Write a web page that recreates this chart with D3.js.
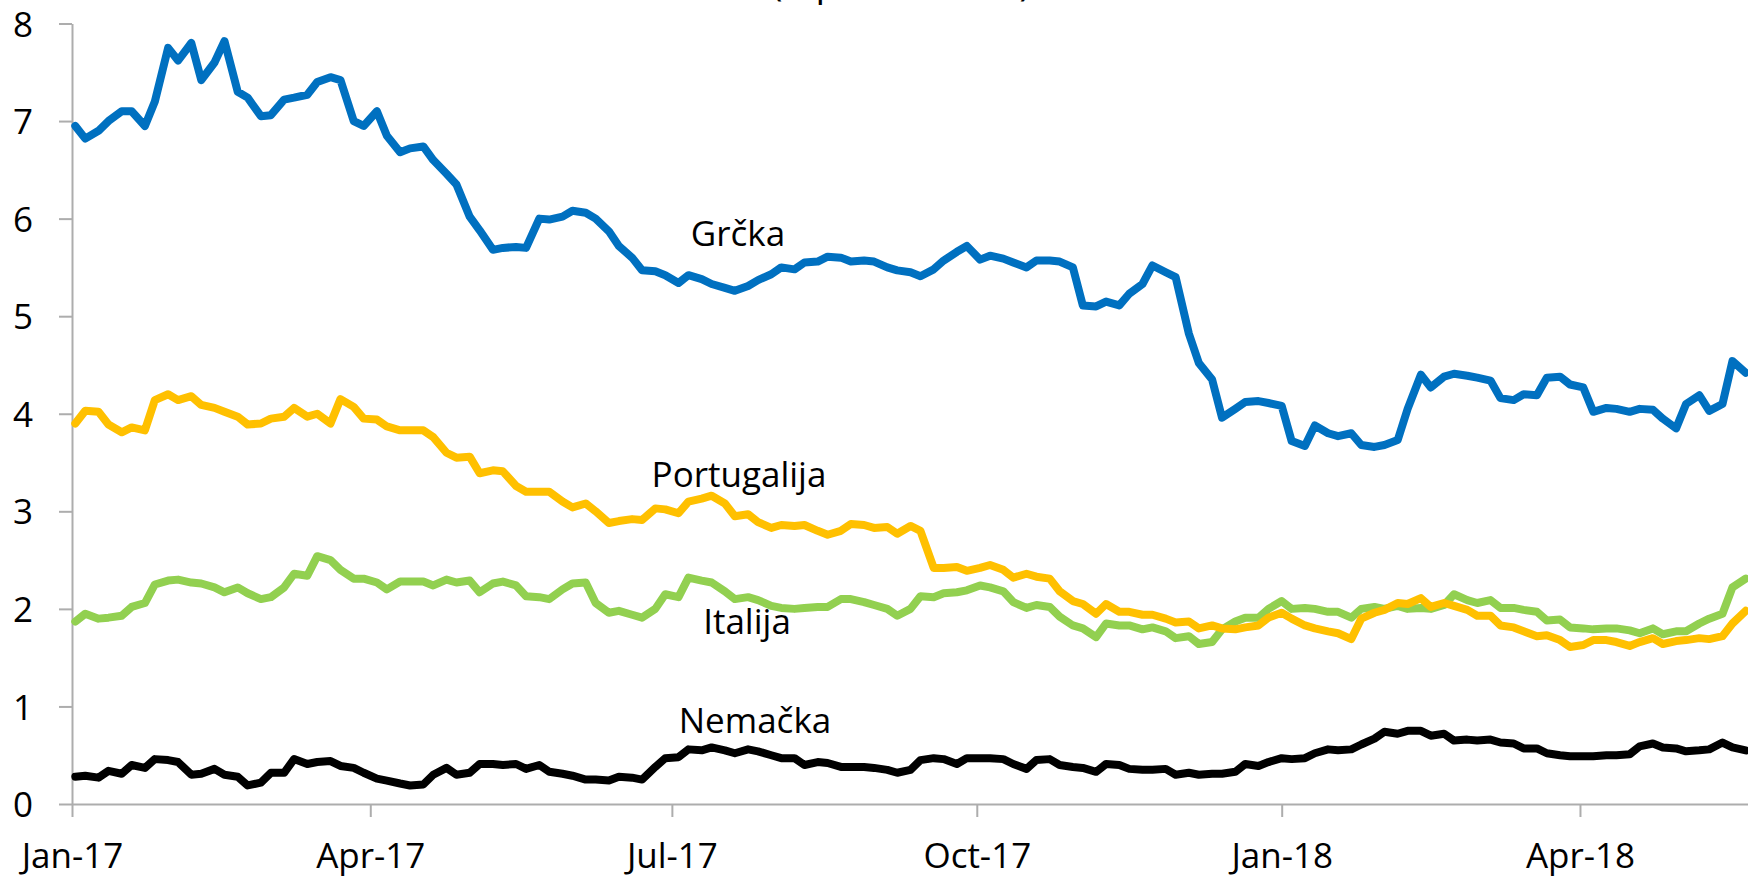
<!DOCTYPE html>
<html>
<head>
<meta charset="utf-8">
<script src="https://cdn.jsdelivr.net/npm/d3@7"></script>
<style>
  body { margin: 0; background: #fff; }
  #chart text { font-family: "Open Sans", sans-serif; fill: #000; }
</style>
</head>
<body>
<div id="chart"></div>
<script>
// quotes sampled on Mondays and Thursdays, Jan 2017 - May 2018
const mondays = d3.utcMonday.range(new Date(Date.UTC(2017, 0, 2)), new Date(Date.UTC(2018, 4, 22)));
const thursdays = d3.utcThursday.range(new Date(Date.UTC(2017, 0, 2)), new Date(Date.UTC(2018, 4, 22)));
const dates = mondays.concat(thursdays).sort((a, b) => a - b);

const grcka = [
  6.95, 6.82, 6.9, 7.0, 7.1, 7.1, 6.95, 7.2, 7.75, 7.62, 7.8, 7.42, 7.6, 7.82, 7.3, 7.24, 7.05, 7.06,
  7.22, 7.24, 7.27, 7.4, 7.45, 7.42, 7.0, 6.95, 7.1, 6.85, 6.68, 6.72, 6.74, 6.6, 6.46, 6.35, 6.02, 5.88,
  5.68, 5.7, 5.71, 5.7, 6.0, 5.99, 6.02, 6.08, 6.06, 6.0, 5.87, 5.72, 5.6, 5.47, 5.46, 5.42, 5.34, 5.42,
  5.38, 5.33, 5.29, 5.26, 5.31, 5.37, 5.43, 5.5, 5.48, 5.55, 5.56, 5.61, 5.6, 5.56, 5.57, 5.56, 5.5, 5.47,
  5.45, 5.41, 5.48, 5.57, 5.66, 5.72, 5.58, 5.62, 5.59, 5.55, 5.5, 5.57, 5.57, 5.56, 5.5, 5.11, 5.1, 5.15,
  5.11, 5.23, 5.33, 5.52, 5.45, 5.4, 4.82, 4.52, 4.35, 3.96, 4.05, 4.12, 4.13, 4.11, 4.08, 3.72, 3.67, 3.88, 3.8,
  3.77, 3.8, 3.68, 3.66, 3.68, 3.73, 4.05, 4.4, 4.27, 4.38, 4.41, 4.39, 4.37, 4.34, 4.16, 4.14, 4.2, 4.19,
  4.37, 4.38, 4.3, 4.27, 4.02, 4.06, 4.05, 4.02, 4.05, 4.04, 3.95, 3.85, 4.1, 4.19, 4.03, 4.1, 4.54, 4.42
];
const portugalija = [
  3.9, 4.03, 4.02, 3.89, 3.81, 3.86, 3.83, 4.14, 4.2, 4.14, 4.18, 4.09, 4.06, 4.02, 3.97, 3.89, 3.9, 3.95,
  3.97, 4.06, 3.97, 4.0, 3.9, 4.15, 4.07, 3.95, 3.94, 3.87, 3.83, 3.83, 3.83, 3.76, 3.6, 3.55, 3.56, 3.39,
  3.42, 3.41, 3.26, 3.2, 3.2, 3.2, 3.1, 3.04, 3.08, 3.0, 2.88, 2.9, 2.92, 2.91, 3.03, 3.02, 2.98, 3.1,
  3.13, 3.16, 3.08, 2.95, 2.97, 2.89, 2.83, 2.86, 2.85, 2.86, 2.8, 2.76, 2.8, 2.87, 2.86, 2.83, 2.84, 2.77,
  2.85, 2.8, 2.42, 2.42, 2.43, 2.39, 2.42, 2.45, 2.4, 2.32, 2.36, 2.33, 2.31, 2.18, 2.08, 2.05, 1.95, 2.05,
  1.97, 1.97, 1.94, 1.94, 1.9, 1.86, 1.87, 1.8, 1.83, 1.8, 1.79, 1.81, 1.83, 1.91, 1.96, 1.9, 1.83, 1.8, 1.77,
  1.75, 1.69, 1.9, 1.96, 1.99, 2.06, 2.05, 2.11, 2.02, 2.06, 2.03, 1.99, 1.93, 1.93, 1.83, 1.81, 1.77, 1.72,
  1.73, 1.68, 1.61, 1.63, 1.68, 1.68, 1.66, 1.62, 1.66, 1.7, 1.64, 1.67, 1.68, 1.7, 1.69, 1.72, 1.85, 1.98
];
const italija = [
  1.87, 1.95, 1.9, 1.91, 1.93, 2.02, 2.06, 2.25, 2.29, 2.3, 2.27, 2.26, 2.22, 2.17, 2.22, 2.16, 2.1, 2.12,
  2.22, 2.36, 2.34, 2.54, 2.5, 2.4, 2.31, 2.31, 2.27, 2.2, 2.28, 2.28, 2.28, 2.24, 2.3, 2.27, 2.29, 2.17,
  2.26, 2.28, 2.24, 2.13, 2.12, 2.1, 2.2, 2.26, 2.27, 2.06, 1.96, 1.98, 1.94, 1.91, 2.0, 2.15, 2.12, 2.32,
  2.29, 2.27, 2.18, 2.1, 2.12, 2.09, 2.03, 2.01, 2.0, 2.01, 2.02, 2.02, 2.1, 2.1, 2.07, 2.04, 2.0, 1.93,
  2.0, 2.13, 2.12, 2.16, 2.17, 2.19, 2.24, 2.22, 2.18, 2.07, 2.01, 2.04, 2.02, 1.92, 1.83, 1.8, 1.71, 1.85,
  1.83, 1.83, 1.79, 1.81, 1.77, 1.7, 1.72, 1.64, 1.66, 1.79, 1.87, 1.91, 1.91, 2.0, 2.08, 2.0, 2.01, 2.0, 1.97,
  1.97, 1.91, 2.0, 2.02, 2.0, 2.03, 2.0, 2.01, 2.0, 2.04, 2.15, 2.09, 2.06, 2.09, 2.01, 2.01, 1.99, 1.97,
  1.88, 1.89, 1.81, 1.8, 1.79, 1.8, 1.8, 1.78, 1.75, 1.8, 1.74, 1.77, 1.77, 1.85, 1.9, 1.95, 2.22, 2.31
];
const nemacka = [
  0.28, 0.29, 0.27, 0.34, 0.31, 0.4, 0.37, 0.46, 0.45, 0.43, 0.3, 0.31, 0.36, 0.3, 0.28, 0.19, 0.22, 0.32,
  0.32, 0.46, 0.41, 0.43, 0.44, 0.39, 0.37, 0.32, 0.26, 0.24, 0.21, 0.19, 0.2, 0.3, 0.37, 0.3, 0.32, 0.41,
  0.41, 0.4, 0.41, 0.36, 0.4, 0.33, 0.31, 0.29, 0.25, 0.25, 0.24, 0.28, 0.27, 0.25, 0.38, 0.47, 0.48, 0.56,
  0.55, 0.58, 0.55, 0.52, 0.56, 0.54, 0.5, 0.47, 0.47, 0.4, 0.43, 0.42, 0.38, 0.38, 0.38, 0.37, 0.35, 0.32,
  0.35, 0.45, 0.47, 0.46, 0.41, 0.47, 0.47, 0.47, 0.46, 0.41, 0.36, 0.45, 0.46, 0.4, 0.38, 0.37, 0.33, 0.41,
  0.4, 0.36, 0.35, 0.35, 0.36, 0.3, 0.32, 0.3, 0.31, 0.31, 0.33, 0.41, 0.39, 0.43, 0.47, 0.46, 0.47, 0.52, 0.56,
  0.55, 0.56, 0.61, 0.67, 0.74, 0.72, 0.75, 0.75, 0.7, 0.72, 0.65, 0.66, 0.65, 0.66, 0.63, 0.62, 0.57, 0.57,
  0.52, 0.5, 0.49, 0.49, 0.49, 0.5, 0.5, 0.51, 0.59, 0.62, 0.58, 0.57, 0.54, 0.55, 0.56, 0.63, 0.58, 0.55
];

const xTicks = [[2017, 0], [2017, 3], [2017, 6], [2017, 9], [2018, 0], [2018, 3]];
const yTicks = [0, 1, 2, 3, 4, 5, 6, 7, 8];

// drawn bottom to top
const series = [
  { name: "Nemačka", values: nemacka, color: "#000000", label: [755, 733] },
  { name: "Italija", values: italija, color: "#92D050", label: [747, 634] },
  { name: "Portugalija", values: portugalija, color: "#FFC000", label: [739, 487] },
  { name: "Grčka", values: grcka, color: "#0070C0", label: [738, 246] }
];

const width = 1748, height = 877;

const svg = d3.select("#chart")
  .append("svg")
  .attr("width", width)
  .attr("height", height);

const x = d3.scaleUtc()
  .domain([new Date(Date.UTC(2017, 0, 1)), new Date(Date.UTC(2018, 4, 22))])
  .range([72, 1749]);

const y = d3.scaleLinear()
  .domain([0, 8])
  .range([804, 23.5]);

// title, cut off at the top edge as in the original
svg.append("text")
  .attr("x", 901)
  .attr("y", -4)
  .attr("text-anchor", "middle")
  .style("font-size", "38px")
  .text("(u procentima)");

const yAxis = svg.append("g")
  .attr("transform", "translate(72,0)")
  .call(d3.axisLeft(y).tickValues(yTicks).tickFormat(d3.format("d")).tickSize(13).tickSizeOuter(0).tickPadding(26));

const xAxis = svg.append("g")
  .attr("transform", "translate(0,804)")
  .call(d3.axisBottom(x)
    .tickValues(xTicks.map(d => new Date(Date.UTC(d[0], d[1], 1))))
    .tickFormat(d3.utcFormat("%b-%y"))
    .tickSize(13).tickSizeOuter(0));

[yAxis, xAxis].forEach(g => {
  g.select(".domain").attr("stroke", "#ADADAD").attr("stroke-width", 2);
  g.selectAll(".tick line").attr("stroke", "#ADADAD").attr("stroke-width", 2);
  g.selectAll(".tick text").style("font-size", "35px");
});
yAxis.selectAll(".tick text").attr("dy", "0.36em");
xAxis.selectAll(".tick text").attr("y", 64).attr("dy", 0);

const line = d3.line()
  .x((d, i) => x(dates[i]))
  .y(d => y(d));

svg.selectAll("path.series")
  .data(series)
  .enter()
  .append("path")
  .attr("class", "series")
  .attr("d", d => line(d.values))
  .attr("fill", "none")
  .attr("stroke", d => d.color)
  .attr("stroke-width", 8)
  .attr("stroke-linejoin", "round")
  .attr("stroke-linecap", "round");

svg.selectAll("text.label")
  .data(series)
  .enter()
  .append("text")
  .attr("class", "label")
  .attr("x", d => d.label[0])
  .attr("y", d => d.label[1])
  .attr("text-anchor", "middle")
  .style("font-size", "35px")
  .text(d => d.name);
</script>
</body>
</html>
